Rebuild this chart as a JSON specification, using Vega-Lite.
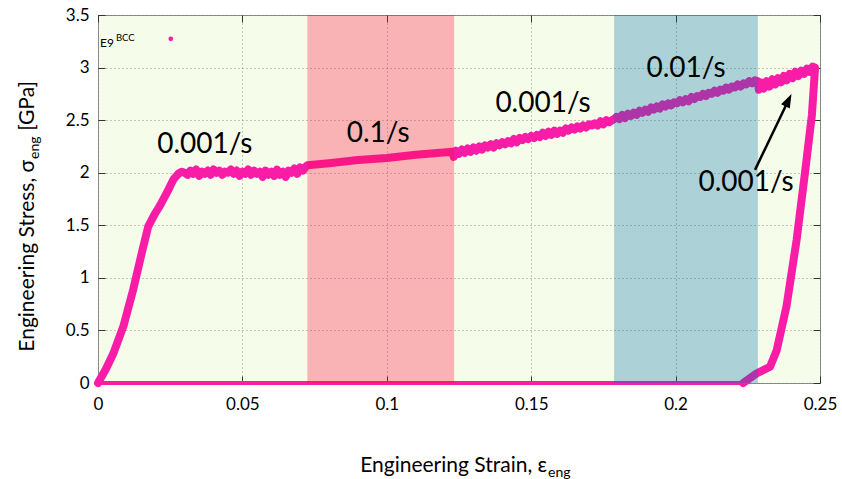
{
  "$schema": "https://vega.github.io/schema/vega-lite/v6.json",
  "width": 722,
  "height": 368,
  "autosize": "none",
  "padding": {"left": 98, "top": 15, "right": 22, "bottom": 96},
  "background": "white",
  "config": {
    "view": {"fill": "#f6fcea", "stroke": "#8c8c8c", "strokeWidth": 1},
    "axis": {
      "labelFont": "Lato", "labelFontSize": 17, "labelColor": "#000", "labelFlush": false,
      "tickColor": "#333", "tickSize": -7, "tickWidth": 1,
      "gridColor": "#777", "gridDash": [1, 3], "gridOpacity": 0.8,
      "domain": false, "title": null
    }
  },
  "datasets": {
    "curve": [
      {"i":1,"strain":0,"stress":0},{"i":2,"strain":0.0027,"stress":0.13},{"i":3,"strain":0.0053,"stress":0.28},
      {"i":4,"strain":0.0088,"stress":0.54},{"i":5,"strain":0.0122,"stress":0.89},{"i":6,"strain":0.0151,"stress":1.23},
      {"i":7,"strain":0.0174,"stress":1.49},{"i":8,"strain":0.0195,"stress":1.6},{"i":9,"strain":0.0215,"stress":1.69},
      {"i":10,"strain":0.0244,"stress":1.84},{"i":11,"strain":0.0262,"stress":1.94},{"i":12,"strain":0.0278,"stress":1.99},
      {"i":13,"strain":0.029,"stress":2.01},{"i":14,"strain":0.03,"stress":2.0},{"i":15,"strain":0.031,"stress":1.98},
      {"i":16,"strain":0.032,"stress":2.02},{"i":17,"strain":0.033,"stress":1.99},{"i":18,"strain":0.034,"stress":2.03},
      {"i":19,"strain":0.035,"stress":1.97},{"i":20,"strain":0.036,"stress":2.01},{"i":21,"strain":0.037,"stress":1.99},
      {"i":22,"strain":0.038,"stress":2.02},{"i":23,"strain":0.039,"stress":1.98},{"i":24,"strain":0.04,"stress":2.03},
      {"i":25,"strain":0.041,"stress":2.0},{"i":26,"strain":0.042,"stress":2.02},{"i":27,"strain":0.043,"stress":1.98},
      {"i":28,"strain":0.044,"stress":2.01},{"i":29,"strain":0.045,"stress":2.0},{"i":30,"strain":0.046,"stress":2.03},
      {"i":31,"strain":0.047,"stress":1.99},{"i":32,"strain":0.048,"stress":2.02},{"i":33,"strain":0.049,"stress":1.97},
      {"i":34,"strain":0.05,"stress":2.01},{"i":35,"strain":0.051,"stress":1.99},{"i":36,"strain":0.052,"stress":2.03},
      {"i":37,"strain":0.053,"stress":1.98},{"i":38,"strain":0.054,"stress":2.02},{"i":39,"strain":0.055,"stress":1.99},
      {"i":40,"strain":0.056,"stress":2.01},{"i":41,"strain":0.057,"stress":1.96},{"i":42,"strain":0.058,"stress":2.02},
      {"i":43,"strain":0.059,"stress":1.98},{"i":44,"strain":0.06,"stress":2.01},{"i":45,"strain":0.061,"stress":1.97},
      {"i":46,"strain":0.062,"stress":2.03},{"i":47,"strain":0.063,"stress":1.98},{"i":48,"strain":0.064,"stress":2.01},
      {"i":49,"strain":0.065,"stress":1.96},{"i":50,"strain":0.066,"stress":2.02},{"i":51,"strain":0.067,"stress":2.0},
      {"i":52,"strain":0.068,"stress":2.04},{"i":53,"strain":0.069,"stress":1.99},{"i":54,"strain":0.07,"stress":2.05},
      {"i":55,"strain":0.071,"stress":2.02},{"i":56,"strain":0.072,"stress":2.06},{"i":57,"strain":0.0725,"stress":2.07},
      {"i":58,"strain":0.08,"stress":2.09},{"i":59,"strain":0.09,"stress":2.12},{"i":60,"strain":0.1,"stress":2.14},
      {"i":61,"strain":0.11,"stress":2.17},{"i":62,"strain":0.1228,"stress":2.2},{"i":63,"strain":0.1232,"stress":2.15},
      {"i":64,"strain":0.124,"stress":2.21},{"i":65,"strain":0.125,"stress":2.18},{"i":66,"strain":0.126,"stress":2.22},
      {"i":67,"strain":0.127,"stress":2.19},{"i":68,"strain":0.128,"stress":2.23},{"i":69,"strain":0.129,"stress":2.2},
      {"i":70,"strain":0.13,"stress":2.24},{"i":71,"strain":0.131,"stress":2.21},{"i":72,"strain":0.132,"stress":2.25},
      {"i":73,"strain":0.133,"stress":2.22},{"i":74,"strain":0.134,"stress":2.26},{"i":75,"strain":0.135,"stress":2.24},
      {"i":76,"strain":0.136,"stress":2.27},{"i":77,"strain":0.137,"stress":2.24},{"i":78,"strain":0.138,"stress":2.28},
      {"i":79,"strain":0.139,"stress":2.26},{"i":80,"strain":0.14,"stress":2.29},{"i":81,"strain":0.141,"stress":2.27},
      {"i":82,"strain":0.142,"stress":2.3},{"i":83,"strain":0.143,"stress":2.28},{"i":84,"strain":0.144,"stress":2.32},
      {"i":85,"strain":0.145,"stress":2.29},{"i":86,"strain":0.146,"stress":2.33},{"i":87,"strain":0.147,"stress":2.31},
      {"i":88,"strain":0.148,"stress":2.34},{"i":89,"strain":0.149,"stress":2.32},{"i":90,"strain":0.15,"stress":2.35},
      {"i":91,"strain":0.151,"stress":2.33},{"i":92,"strain":0.152,"stress":2.36},{"i":93,"strain":0.153,"stress":2.34},
      {"i":94,"strain":0.154,"stress":2.38},{"i":95,"strain":0.155,"stress":2.35},{"i":96,"strain":0.156,"stress":2.39},
      {"i":97,"strain":0.157,"stress":2.36},{"i":98,"strain":0.158,"stress":2.4},{"i":99,"strain":0.159,"stress":2.37},
      {"i":100,"strain":0.16,"stress":2.4},{"i":101,"strain":0.161,"stress":2.38},{"i":102,"strain":0.162,"stress":2.42},
      {"i":103,"strain":0.163,"stress":2.4},{"i":104,"strain":0.164,"stress":2.43},{"i":105,"strain":0.165,"stress":2.41},
      {"i":106,"strain":0.166,"stress":2.44},{"i":107,"strain":0.167,"stress":2.42},{"i":108,"strain":0.168,"stress":2.45},
      {"i":109,"strain":0.169,"stress":2.43},{"i":110,"strain":0.17,"stress":2.46},{"i":111,"strain":0.171,"stress":2.45},
      {"i":112,"strain":0.172,"stress":2.47},{"i":113,"strain":0.173,"stress":2.45},{"i":114,"strain":0.174,"stress":2.49},
      {"i":115,"strain":0.175,"stress":2.46},{"i":116,"strain":0.176,"stress":2.5},{"i":117,"strain":0.177,"stress":2.48},
      {"i":118,"strain":0.178,"stress":2.5},{"i":119,"strain":0.1787,"stress":2.51},{"i":120,"strain":0.1795,"stress":2.53},
      {"i":121,"strain":0.1805,"stress":2.51},{"i":122,"strain":0.1815,"stress":2.55},{"i":123,"strain":0.1825,"stress":2.52},
      {"i":124,"strain":0.1835,"stress":2.56},{"i":125,"strain":0.1845,"stress":2.54},{"i":126,"strain":0.1855,"stress":2.57},
      {"i":127,"strain":0.1865,"stress":2.55},{"i":128,"strain":0.1875,"stress":2.59},{"i":129,"strain":0.1885,"stress":2.57},
      {"i":130,"strain":0.1895,"stress":2.6},{"i":131,"strain":0.1905,"stress":2.58},{"i":132,"strain":0.1915,"stress":2.62},
      {"i":133,"strain":0.1925,"stress":2.6},{"i":134,"strain":0.1935,"stress":2.63},{"i":135,"strain":0.1945,"stress":2.61},
      {"i":136,"strain":0.1955,"stress":2.65},{"i":137,"strain":0.1965,"stress":2.63},{"i":138,"strain":0.1975,"stress":2.66},
      {"i":139,"strain":0.1985,"stress":2.64},{"i":140,"strain":0.1995,"stress":2.67},{"i":141,"strain":0.2005,"stress":2.66},
      {"i":142,"strain":0.2015,"stress":2.69},{"i":143,"strain":0.2025,"stress":2.67},{"i":144,"strain":0.2035,"stress":2.7},
      {"i":145,"strain":0.2045,"stress":2.68},{"i":146,"strain":0.2055,"stress":2.72},{"i":147,"strain":0.2065,"stress":2.7},
      {"i":148,"strain":0.2075,"stress":2.73},{"i":149,"strain":0.2085,"stress":2.72},{"i":150,"strain":0.2095,"stress":2.75},
      {"i":151,"strain":0.2105,"stress":2.73},{"i":152,"strain":0.2115,"stress":2.76},{"i":153,"strain":0.2125,"stress":2.75},
      {"i":154,"strain":0.2135,"stress":2.78},{"i":155,"strain":0.2145,"stress":2.76},{"i":156,"strain":0.2155,"stress":2.79},
      {"i":157,"strain":0.2165,"stress":2.78},{"i":158,"strain":0.2175,"stress":2.81},{"i":159,"strain":0.2185,"stress":2.79},
      {"i":160,"strain":0.2195,"stress":2.82},{"i":161,"strain":0.2205,"stress":2.81},{"i":162,"strain":0.2215,"stress":2.84},
      {"i":163,"strain":0.2225,"stress":2.82},{"i":164,"strain":0.2235,"stress":2.85},{"i":165,"strain":0.2245,"stress":2.84},
      {"i":166,"strain":0.2255,"stress":2.87},{"i":167,"strain":0.2265,"stress":2.85},{"i":168,"strain":0.2275,"stress":2.88},
      {"i":169,"strain":0.2285,"stress":2.87},{"i":170,"strain":0.2288,"stress":2.79},{"i":171,"strain":0.2295,"stress":2.86},
      {"i":172,"strain":0.2305,"stress":2.8},{"i":173,"strain":0.2315,"stress":2.87},{"i":174,"strain":0.2325,"stress":2.82},
      {"i":175,"strain":0.2335,"stress":2.89},{"i":176,"strain":0.2345,"stress":2.84},{"i":177,"strain":0.2355,"stress":2.9},
      {"i":178,"strain":0.2365,"stress":2.86},{"i":179,"strain":0.2375,"stress":2.92},{"i":180,"strain":0.2385,"stress":2.88},
      {"i":181,"strain":0.2395,"stress":2.94},{"i":182,"strain":0.2405,"stress":2.9},{"i":183,"strain":0.2415,"stress":2.96},
      {"i":184,"strain":0.2425,"stress":2.92},{"i":185,"strain":0.2435,"stress":2.97},{"i":186,"strain":0.2445,"stress":2.94},
      {"i":187,"strain":0.2455,"stress":2.99},{"i":188,"strain":0.2465,"stress":2.96},{"i":189,"strain":0.2475,"stress":3.01},
      {"i":190,"strain":0.2483,"stress":3.0},{"i":191,"strain":0.2472,"stress":2.55},{"i":192,"strain":0.2448,"stress":2.0},
      {"i":193,"strain":0.2419,"stress":1.36},{"i":194,"strain":0.2384,"stress":0.73},{"i":195,"strain":0.235,"stress":0.31},
      {"i":196,"strain":0.2327,"stress":0.155},{"i":197,"strain":0.228,"stress":0.09},{"i":198,"strain":0.2234,"stress":0.0}
    ],
    "zero": [
      {"i":1,"strain":0.2234,"stress":0.0},{"i":2,"strain":0,"stress":0}
    ],
    "bands": [
      {"from": 0.0725, "to": 0.1233, "rate": "0.1/s"},
      {"from": 0.1787, "to": 0.2285, "rate": "0.01/s"}
    ],
    "labels": [
      {"strain": 0.037, "stress": 2.265, "text": "0.001/s"},
      {"strain": 0.097, "stress": 2.369, "text": "0.1/s"},
      {"strain": 0.1541, "stress": 2.655, "text": "0.001/s"},
      {"strain": 0.2036, "stress": 2.988, "text": "0.01/s"},
      {"strain": 0.2244, "stress": 1.903, "text": "0.001/s"}
    ],
    "arrow": [
      {"s0": 0.2275, "t0": 2.027, "s1": 0.2389, "t1": 2.68}
    ]
  },
  "resolve": {"axis": {"x": "independent", "y": "independent"}},
  "layer": [
    {
      "data": {"name": "zero"},
      "mark": {"type": "line", "color": "#f81ca6", "strokeWidth": 4, "strokeCap": "round"},
      "encoding": {
        "x": {"field": "strain", "type": "quantitative",
              "scale": {"domain": [0, 0.25], "nice": false, "zero": false},
              "axis": {"orient": "bottom", "values": [0, 0.05, 0.1, 0.15, 0.2, 0.25], "format": "~g", "grid": true, "labelPadding": 20}},
        "y": {"field": "stress", "type": "quantitative",
              "scale": {"domain": [0, 3.5], "nice": false, "zero": false},
              "axis": {"orient": "left", "values": [0, 0.5, 1, 1.5, 2, 2.5, 3, 3.5], "format": "~g", "grid": true, "labelPadding": 16}},
        "order": {"field": "i", "type": "quantitative"}
      }
    },
    {
      "data": {"name": "curve"},
      "mark": {"type": "line", "color": "#f81ca6", "strokeWidth": 8, "strokeJoin": "round", "strokeCap": "round"},
      "encoding": {
        "x": {"field": "strain", "type": "quantitative", "axis": null},
        "y": {"field": "stress", "type": "quantitative", "axis": null},
        "order": {"field": "i", "type": "quantitative"}
      }
    },
    {
      "data": {"name": "bands"},
      "mark": {"type": "rect", "opacity": 0.3},
      "encoding": {
        "x": {"field": "from", "type": "quantitative",
              "axis": {"orient": "top", "values": [0, 0.05, 0.1, 0.15, 0.2, 0.25], "labels": false, "grid": false}},
        "x2": {"field": "to"},
        "y": {"datum": 0, "type": "quantitative",
              "axis": {"orient": "right", "values": [0, 0.5, 1, 1.5, 2, 2.5, 3, 3.5], "labels": false, "grid": false}},
        "y2": {"datum": 3.5},
        "color": {"field": "rate", "type": "nominal",
                  "scale": {"domain": ["0.1/s", "0.01/s"], "range": ["#ff0a39", "#0072ac"]},
                  "legend": null}
      }
    },
    {
      "data": {"name": "labels"},
      "mark": {"type": "text", "font": "Lato", "fontSize": 28, "color": "#000", "align": "center", "baseline": "middle"},
      "encoding": {
        "x": {"field": "strain", "type": "quantitative", "axis": null},
        "y": {"field": "stress", "type": "quantitative", "axis": null},
        "text": {"field": "text"}
      }
    },
    {
      "data": {"name": "arrow"},
      "mark": {"type": "rule", "color": "#000", "strokeWidth": 2.5},
      "encoding": {
        "x": {"field": "s0", "type": "quantitative", "axis": null},
        "y": {"field": "t0", "type": "quantitative", "axis": null},
        "x2": {"field": "s1"},
        "y2": {"field": "t1"}
      }
    },
    {
      "data": {"name": "arrow"},
      "mark": {"type": "point", "shape": "M0,-1L0.6,0.7L-0.6,0.7Z", "filled": true, "color": "#000", "opacity": 1, "size": 260, "angle": 26},
      "encoding": {
        "x": {"field": "s1", "type": "quantitative", "axis": null},
        "y": {"field": "t1", "type": "quantitative", "axis": null}
      }
    },
    {
      "data": {"values": [{"strain": 0.0007, "stress": 3.197, "text": "E9"}]},
      "mark": {"type": "text", "font": "Lato", "fontSize": 12, "color": "#000", "align": "left", "baseline": "alphabetic"},
      "encoding": {
        "x": {"field": "strain", "type": "quantitative", "axis": null},
        "y": {"field": "stress", "type": "quantitative", "axis": null},
        "text": {"field": "text"}
      }
    },
    {
      "data": {"values": [{"strain": 0.0062, "stress": 3.254, "text": "BCC"}]},
      "mark": {"type": "text", "font": "Lato", "fontSize": 9.5, "color": "#000", "align": "left", "baseline": "alphabetic"},
      "encoding": {
        "x": {"field": "strain", "type": "quantitative", "axis": null},
        "y": {"field": "stress", "type": "quantitative", "axis": null},
        "text": {"field": "text"}
      }
    },
    {
      "data": {"values": [{"strain": 0.0252, "stress": 3.273}]},
      "mark": {"type": "point", "shape": "circle", "filled": true, "color": "#f81ca6", "opacity": 1, "size": 22},
      "encoding": {
        "x": {"field": "strain", "type": "quantitative", "axis": null},
        "y": {"field": "stress", "type": "quantitative", "axis": null}
      }
    },
    {
      "data": {"values": [{"strain": 0.1555, "stress": -0.842, "text": "Engineering Strain, ε"}]},
      "mark": {"type": "text", "font": "Lato", "fontSize": 21, "color": "#000", "align": "right", "baseline": "alphabetic"},
      "encoding": {
        "x": {"field": "strain", "type": "quantitative", "axis": null},
        "y": {"field": "stress", "type": "quantitative", "axis": null},
        "text": {"field": "text"}
      }
    },
    {
      "data": {"values": [{"strain": 0.1555, "stress": -0.842, "text": "eng"}]},
      "mark": {"type": "text", "font": "Lato", "fontSize": 14, "color": "#000", "align": "left", "baseline": "alphabetic", "dx": 1, "dy": 5},
      "encoding": {
        "x": {"field": "strain", "type": "quantitative", "axis": null},
        "y": {"field": "stress", "type": "quantitative", "axis": null},
        "text": {"field": "text"}
      }
    },
    {
      "data": {"values": [{"strain": -0.0223, "stress": 2.122, "text": "Engineering Stress, σ"}]},
      "mark": {"type": "text", "font": "Lato", "fontSize": 21, "color": "#000", "align": "right", "baseline": "alphabetic", "angle": 270},
      "encoding": {
        "x": {"field": "strain", "type": "quantitative", "axis": null},
        "y": {"field": "stress", "type": "quantitative", "axis": null},
        "text": {"field": "text"}
      }
    },
    {
      "data": {"values": [{"strain": -0.0223, "stress": 2.122, "text": "eng"}]},
      "mark": {"type": "text", "font": "Lato", "fontSize": 14, "color": "#000", "align": "left", "baseline": "alphabetic", "angle": 270, "dx": 1, "dy": 5},
      "encoding": {
        "x": {"field": "strain", "type": "quantitative", "axis": null},
        "y": {"field": "stress", "type": "quantitative", "axis": null},
        "text": {"field": "text"}
      }
    },
    {
      "data": {"values": [{"strain": -0.0223, "stress": 2.398, "text": "[GPa]"}]},
      "mark": {"type": "text", "font": "Lato", "fontSize": 21, "color": "#000", "align": "left", "baseline": "alphabetic", "angle": 270},
      "encoding": {
        "x": {"field": "strain", "type": "quantitative", "axis": null},
        "y": {"field": "stress", "type": "quantitative", "axis": null},
        "text": {"field": "text"}
      }
    }
  ]
}
